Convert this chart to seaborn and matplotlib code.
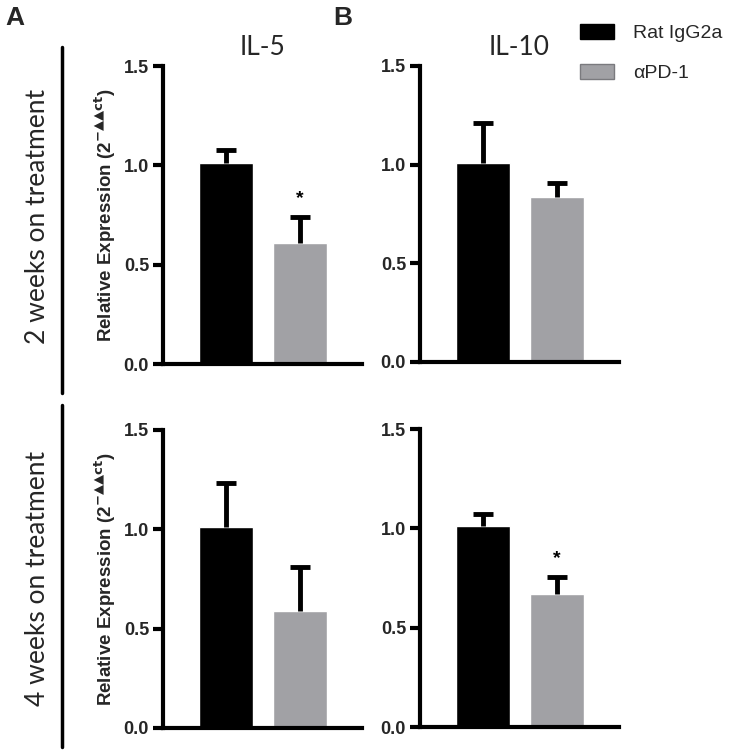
import matplotlib
matplotlib.use("Agg")
import matplotlib.pyplot as plt
import seaborn as sns
import pandas as pd
import numpy as np
from matplotlib.patches import Patch
from matplotlib.lines import Line2D

sns.set_theme(style="white")
plt.rcParams['font.family'] = ['Liberation Sans', 'DejaVu Sans']
plt.rcParams['mathtext.fontset'] = 'dejavusans'

groups = ["Rat IgG2a", "αPD-1"]
colors = ["#000000", "#a1a1a5"]
cytokines = ["IL-5", "IL-10"]
timepoints = ["2 weeks on treatment", "4 weeks on treatment"]

# means and upper error (SEM) per panel
il5_2wk_mean = [1.01, 0.61]
il5_2wk_err = [0.065, 0.13]
il10_2wk_mean = [1.01, 0.835]
il10_2wk_err = [0.20, 0.07]
il5_4wk_mean = [1.01, 0.59]
il5_4wk_err = [0.225, 0.22]
il10_4wk_mean = [1.01, 0.67]
il10_4wk_err = [0.06, 0.085]
significant = [[False, True], [False, False], [False, False], [False, True]]

ticks = [0.0, 0.5, 1.0, 1.5]
tick_labels = ["0.0", "0.5", "1.0", "1.5"]

panels = [
    (il5_2wk_mean, il5_2wk_err, [163, 66, 362, 364], True, cytokines[0]),
    (il10_2wk_mean, il10_2wk_err, [420, 66, 619, 362], False, cytokines[1]),
    (il5_4wk_mean, il5_4wk_err, [163, 430, 362, 728], True, None),
    (il10_4wk_mean, il10_4wk_err, [420, 429, 619, 727], False, None),
]

W, H = 738, 751
fig = plt.figure(figsize=(W / 100, H / 100), dpi=100)

ylabel = r'Relative Expression (2$^{\mathbf{-▲▲ct}}$)'

for i, (means, errs, (x0, y0, x1, y1), show_ylabel, title) in enumerate(panels):
    ax = fig.add_axes([x0 / W, 1 - y1 / H, (x1 - x0) / W, (y1 - y0) / H])
    df = pd.DataFrame({"group": groups, "value": means})
    sns.barplot(data=df, x="group", y="value", hue="group", palette=colors,
                width=0.73, ax=ax, legend=False, saturation=1, errorbar=None)
    xs = np.arange(len(means))
    tops = np.array(means) + np.array(errs)
    ax.vlines(xs, means, tops, color='black', lw=3.5, zorder=5)
    ax.hlines(tops, xs - 0.13, xs + 0.13, color='black', lw=3.5, zorder=5)
    for j in range(2):
        if significant[i][j]:
            ax.text(j, tops[j] + 0.05, "*", ha='center', va='bottom',
                    fontsize=14, fontweight='bold', color='black')
    ax.set_xlim(-0.851, 1.838)
    ax.set_ylim(0, 1.5)
    ax.set_yticks(ticks)
    ax.set_yticklabels(tick_labels, fontsize=13, fontweight='bold')
    ax.set_xticks([])
    ax.set_xlabel("")
    ax.set_ylabel(ylabel if show_ylabel else "", fontsize=13.5, fontweight='bold',
                  labelpad=4)
    for s in ['top', 'right']:
        ax.spines[s].set_visible(False)
    for s in ['left', 'bottom']:
        ax.spines[s].set_linewidth(3)
        ax.spines[s].set_color('black')
    ax.tick_params(axis='y', direction='out', length=7, width=3, color='black',
                   left=True, pad=3)
    ax.set_facecolor('white')
    if title:
        ax.set_title(title, fontsize=19, family='Lato', pad=8)

# panel letters
fig.text(5 / W, 1 - 18 / H, "A", fontsize=19, fontweight='bold', va='center', ha='left')
fig.text(333 / W, 1 - 18 / H, "B", fontsize=19, fontweight='bold', va='center', ha='left')

# timepoint labels & vertical lines
fig.text(38 / W, 1 - 216 / H, timepoints[0], rotation=90, fontsize=19, family='Lato',
         ha='center', va='center')
fig.text(38 / W, 1 - 578 / H, timepoints[1], rotation=90, fontsize=19, family='Lato',
         ha='center', va='center')
fig.add_artist(Line2D([62 / W, 62 / W], [1 - 47 / H, 1 - 393 / H], color='black', lw=2.5))
fig.add_artist(Line2D([62 / W, 62 / W], [1 - 405 / H, 1 - 747 / H], color='black', lw=2.5))

handles = [Patch(facecolor=colors[0], edgecolor=colors[0]),
           Patch(facecolor=colors[1], edgecolor='#7a7a7e')]
fig.legend(handles, groups, loc='upper left', bbox_to_anchor=(576 / W, 1 - 20 / H),
           frameon=False, fontsize=14, handlelength=1.75, handleheight=0.85,
           handletextpad=1.0, labelspacing=1.1, borderaxespad=0, borderpad=0.2)

fig.savefig("out.png", dpi=100, facecolor='white')
